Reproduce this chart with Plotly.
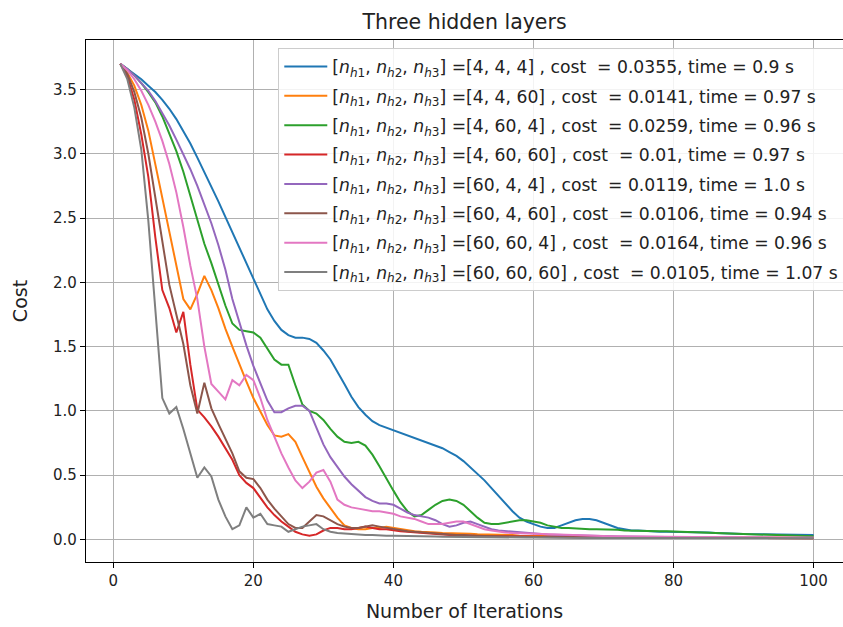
import plotly.graph_objects as go

iterations = list(range(1, 101))

configs = [[4, 4, 4], [4, 4, 60], [4, 60, 4], [4, 60, 60],
           [60, 4, 4], [60, 4, 60], [60, 60, 4], [60, 60, 60]]
final_costs = ["0.0355", "0.0141", "0.0259", "0.01", "0.0119", "0.0106", "0.0164", "0.0105"]
times = ["0.9", "0.97", "0.96", "0.97", "1.0", "0.94", "0.96", "1.07"]
colors = ["#1f77b4", "#ff7f0e", "#2ca02c", "#d62728",
          "#9467bd", "#8c564b", "#e377c2", "#7f7f7f"]

cost_4_4_4 = [
    3.70, 3.66, 3.62, 3.58, 3.53, 3.48, 3.42, 3.35, 3.27, 3.18,
    3.08, 2.97, 2.86, 2.74, 2.63, 2.51, 2.39, 2.27, 2.15, 2.03,
    1.90, 1.79, 1.70, 1.63, 1.59, 1.57, 1.57, 1.56, 1.53, 1.47,
    1.40, 1.31, 1.21, 1.11, 1.03, 0.97, 0.92, 0.89, 0.87, 0.85,
    0.83, 0.81, 0.79, 0.77, 0.75, 0.73, 0.71, 0.68, 0.65, 0.61,
    0.56, 0.51, 0.46, 0.40, 0.34, 0.28, 0.22, 0.17, 0.14, 0.12,
    0.10, 0.09, 0.09, 0.11, 0.13, 0.15, 0.16, 0.16, 0.15, 0.13,
    0.11, 0.09, 0.08, 0.07, 0.07, 0.065, 0.065, 0.06, 0.06, 0.06,
    0.06, 0.06, 0.06, 0.06, 0.055, 0.05, 0.05, 0.045, 0.045, 0.042,
    0.041, 0.04, 0.039, 0.038, 0.038, 0.037, 0.037, 0.036, 0.036, 0.0355]

cost_4_4_60 = [
    3.70, 3.63, 3.53, 3.38, 3.18, 2.92, 2.65, 2.38, 2.12, 1.87,
    1.79, 1.91, 2.05, 1.94, 1.80, 1.64, 1.50, 1.36, 1.23, 1.10,
    0.99, 0.89, 0.81, 0.80, 0.82, 0.76, 0.64, 0.52, 0.41, 0.32,
    0.24, 0.17, 0.11, 0.09, 0.08, 0.08, 0.09, 0.09, 0.10, 0.09,
    0.08, 0.07, 0.065, 0.06, 0.06, 0.055, 0.05, 0.05, 0.05, 0.045,
    0.045, 0.04, 0.04, 0.04, 0.035, 0.035, 0.035, 0.03, 0.03, 0.03,
    0.03, 0.028, 0.027, 0.026, 0.025, 0.024, 0.023, 0.022, 0.022, 0.021,
    0.02, 0.02, 0.02, 0.019, 0.019, 0.018, 0.018, 0.018, 0.017, 0.017,
    0.017, 0.016, 0.016, 0.016, 0.016, 0.015, 0.015, 0.015, 0.015, 0.015,
    0.015, 0.015, 0.014, 0.014, 0.014, 0.014, 0.014, 0.014, 0.014, 0.0141]

cost_4_60_4 = [
    3.70, 3.66, 3.61, 3.55, 3.48, 3.40, 3.29, 3.16, 3.02, 2.86,
    2.67, 2.47, 2.30, 2.15, 1.99, 1.82, 1.68, 1.63, 1.62, 1.61,
    1.57, 1.49, 1.40, 1.36, 1.36, 1.20, 1.05, 1.00, 0.98, 0.93,
    0.86, 0.80, 0.76, 0.75, 0.76, 0.73, 0.66, 0.57, 0.47, 0.38,
    0.29, 0.22, 0.18, 0.19, 0.23, 0.27, 0.30, 0.31, 0.30, 0.27,
    0.22, 0.17, 0.13, 0.12, 0.12, 0.13, 0.14, 0.15, 0.15, 0.14,
    0.13, 0.11, 0.10, 0.09, 0.09, 0.085, 0.08, 0.08, 0.08, 0.08,
    0.08, 0.075, 0.07, 0.07, 0.07, 0.068, 0.066, 0.065, 0.064, 0.063,
    0.062, 0.06, 0.058, 0.055, 0.052, 0.05, 0.047, 0.045, 0.042, 0.04,
    0.038, 0.036, 0.034, 0.032, 0.031, 0.03, 0.029, 0.028, 0.027, 0.0259]

cost_4_60_60 = [
    3.70, 3.60, 3.42, 3.15, 2.82, 2.35, 1.94, 1.80, 1.61, 1.77,
    1.36, 1.01, 0.95, 0.88, 0.80, 0.71, 0.62, 0.50, 0.44, 0.40,
    0.32, 0.25, 0.19, 0.14, 0.10, 0.06, 0.04, 0.03, 0.04, 0.07,
    0.09, 0.09, 0.08, 0.08, 0.09, 0.10, 0.09, 0.08, 0.08, 0.07,
    0.065, 0.06, 0.055, 0.05, 0.045, 0.04, 0.04, 0.035, 0.035, 0.03,
    0.03, 0.028, 0.027, 0.026, 0.025, 0.024, 0.023, 0.022, 0.021, 0.02,
    0.02, 0.019, 0.018, 0.018, 0.017, 0.017, 0.016, 0.016, 0.015, 0.015,
    0.015, 0.014, 0.014, 0.014, 0.013, 0.013, 0.013, 0.013, 0.012, 0.012,
    0.012, 0.012, 0.012, 0.011, 0.011, 0.011, 0.011, 0.011, 0.011, 0.011,
    0.011, 0.01, 0.01, 0.01, 0.01, 0.01, 0.01, 0.01, 0.01, 0.01]

cost_60_4_4 = [
    3.70, 3.66, 3.61, 3.55, 3.49, 3.41, 3.32, 3.22, 3.11, 3.00,
    2.88, 2.75, 2.61, 2.46, 2.29, 2.10, 1.87, 1.68, 1.51, 1.35,
    1.21, 1.08, 0.99, 0.99, 1.02, 1.04, 1.04, 1.00, 0.87, 0.74,
    0.64, 0.56, 0.49, 0.43, 0.38, 0.33, 0.30, 0.28, 0.28, 0.27,
    0.24, 0.21, 0.19, 0.18, 0.17, 0.15, 0.12, 0.10, 0.11, 0.13,
    0.14, 0.12, 0.10, 0.08, 0.07, 0.065, 0.06, 0.055, 0.05, 0.045,
    0.04, 0.038, 0.036, 0.034, 0.032, 0.03, 0.029, 0.028, 0.027, 0.026,
    0.025, 0.024, 0.023, 0.022, 0.021, 0.02, 0.02, 0.019, 0.018, 0.018,
    0.017, 0.017, 0.016, 0.016, 0.015, 0.015, 0.015, 0.014, 0.014, 0.014,
    0.013, 0.013, 0.013, 0.013, 0.012, 0.012, 0.012, 0.012, 0.012, 0.0119]

cost_60_4_60 = [
    3.70, 3.62, 3.48, 3.28, 3.00, 2.65, 2.30, 1.98, 1.75, 1.52,
    1.20, 0.98, 1.22, 1.02, 0.90, 0.78, 0.67, 0.53, 0.48, 0.47,
    0.40, 0.31, 0.24, 0.18, 0.12, 0.09, 0.09, 0.14, 0.19, 0.18,
    0.15, 0.12, 0.10, 0.09, 0.09, 0.10, 0.11, 0.10, 0.09, 0.08,
    0.07, 0.065, 0.06, 0.055, 0.05, 0.045, 0.04, 0.04, 0.035, 0.035,
    0.03, 0.03, 0.028, 0.026, 0.025, 0.024, 0.023, 0.022, 0.021, 0.02,
    0.02, 0.019, 0.018, 0.018, 0.017, 0.016, 0.016, 0.015, 0.015, 0.015,
    0.014, 0.014, 0.014, 0.013, 0.013, 0.013, 0.013, 0.012, 0.012, 0.012,
    0.012, 0.012, 0.012, 0.011, 0.011, 0.011, 0.011, 0.011, 0.011, 0.011,
    0.011, 0.011, 0.011, 0.011, 0.011, 0.011, 0.011, 0.011, 0.0106, 0.0106]

cost_60_60_4 = [
    3.70, 3.65, 3.58, 3.49, 3.38, 3.25, 3.10, 2.92, 2.70, 2.43,
    2.13, 1.87, 1.50, 1.21, 1.15, 1.09, 1.24, 1.20, 1.28, 1.24,
    1.10, 0.93, 0.80, 0.67, 0.56, 0.46, 0.40, 0.45, 0.52, 0.54,
    0.45, 0.31, 0.27, 0.25, 0.24, 0.23, 0.22, 0.22, 0.21, 0.20,
    0.18, 0.17, 0.16, 0.14, 0.12, 0.12, 0.12, 0.13, 0.14, 0.14,
    0.12, 0.10, 0.08, 0.07, 0.06, 0.055, 0.05, 0.048, 0.045, 0.043,
    0.04, 0.038, 0.036, 0.034, 0.033, 0.032, 0.03, 0.029, 0.028, 0.027,
    0.026, 0.025, 0.024, 0.024, 0.023, 0.022, 0.022, 0.021, 0.021, 0.02,
    0.02, 0.02, 0.019, 0.019, 0.019, 0.018, 0.018, 0.018, 0.018, 0.017,
    0.017, 0.017, 0.017, 0.017, 0.017, 0.017, 0.016, 0.016, 0.016, 0.0164]

cost_60_60_60 = [
    3.70, 3.58, 3.36, 3.03, 2.48, 1.82, 1.10, 0.98, 1.03, 0.86,
    0.67, 0.48, 0.56, 0.49, 0.31, 0.18, 0.08, 0.11, 0.25, 0.17,
    0.20, 0.12, 0.11, 0.10, 0.06, 0.08, 0.10, 0.11, 0.12, 0.08,
    0.06, 0.05, 0.045, 0.04, 0.04, 0.035, 0.035, 0.03, 0.03, 0.03,
    0.028, 0.027, 0.026, 0.025, 0.024, 0.023, 0.022, 0.021, 0.02, 0.02,
    0.019, 0.018, 0.018, 0.017, 0.017, 0.016, 0.016, 0.015, 0.015, 0.015,
    0.014, 0.014, 0.014, 0.013, 0.013, 0.013, 0.013, 0.012, 0.012, 0.012,
    0.012, 0.012, 0.012, 0.011, 0.011, 0.011, 0.011, 0.011, 0.011, 0.011,
    0.011, 0.011, 0.011, 0.011, 0.011, 0.011, 0.011, 0.011, 0.011, 0.011,
    0.011, 0.011, 0.011, 0.011, 0.011, 0.011, 0.011, 0.011, 0.0105, 0.0105]

series = [cost_4_4_4, cost_4_4_60, cost_4_60_4, cost_4_60_60,
          cost_60_4_4, cost_60_4_60, cost_60_60_4, cost_60_60_60]

FONT = "DejaVu Sans"
prefix = ("[<i>n</i><sub><i>h</i>1</sub>, <i>n</i><sub><i>h</i>2</sub>, "
          "<i>n</i><sub><i>h</i>3</sub>] =")

fig = go.Figure()
for i, ys in enumerate(series):
    c = configs[i]
    name = (prefix + "[%d, %d, %d] , cost  = %s, time = %s s"
            % (c[0], c[1], c[2], final_costs[i], times[i]))
    fig.add_trace(go.Scatter(
        x=iterations, y=ys, mode="lines", name=name,
        line=dict(color=colors[i], width=2),
        legendgroup="g%d" % i,
    ))

fig.update_layout(
    width=843, height=627,
    margin=dict(l=86, r=0, t=40, b=65, autoexpand=False),
    paper_bgcolor="white", plot_bgcolor="white",
    font=dict(family=FONT, size=15, color="#222222"),
    title=dict(text="Three hidden layers", x=0.5, xref="paper",
               y=1 - 22 / 627, yref="container", yanchor="middle",
               xanchor="center", font=dict(size=20.5, color="#222222")),
    showlegend=True,
    legend=dict(x=0.254, y=0.985, xanchor="left", yanchor="top",
                bgcolor="rgba(255,255,255,0.85)", bordercolor="#cccccc",
                borderwidth=1, font=dict(size=17.2, color="#222222"),
                tracegroupgap=4, itemwidth=43),
)
fig.update_xaxes(
    range=[-3.9, 104.2], tickvals=[0, 20, 40, 60, 80, 100],
    showgrid=True, gridcolor="#b0b0b0", gridwidth=0.8,
    showline=True, linecolor="black", linewidth=1.2, mirror=True,
    ticks="outside", ticklen=5, tickcolor="black", zeroline=False,
    tickfont=dict(size=15), automargin=False,
    title=dict(text="Number of Iterations", font=dict(size=19), standoff=15),
)
fig.update_yaxes(
    range=[-0.175, 3.885], tickvals=[0, 0.5, 1.0, 1.5, 2.0, 2.5, 3.0, 3.5],
    tickformat=".1f",
    showgrid=True, gridcolor="#b0b0b0", gridwidth=0.8,
    showline=True, linecolor="black", linewidth=1.2, mirror=False,
    ticks="outside", ticklen=5, tickcolor="black", zeroline=False,
    tickfont=dict(size=15), automargin=False,
    title=dict(text="Cost", font=dict(size=19), standoff=20),
)

fig.write_html("out.html")
